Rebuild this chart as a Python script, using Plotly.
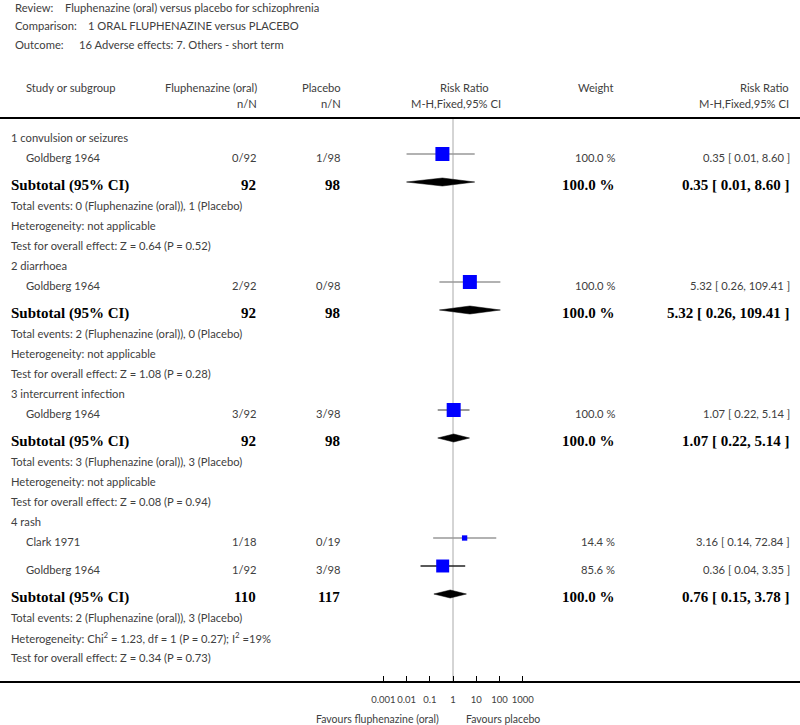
import plotly.graph_objects as go

# ---------------- data ----------------
review_title = "Fluphenazine (oral) versus placebo for schizophrenia"
comparison_title = "1 ORAL FLUPHENAZINE versus PLACEBO"
outcome_title = "16 Adverse effects: 7. Others - short term"

group_names = ["1 convulsion or seizures", "2 diarrhoea", "3 intercurrent infection", "4 rash"]

study_names = ["Goldberg 1964", "Goldberg 1964", "Goldberg 1964", "Clark 1971", "Goldberg 1964"]
study_group = [0, 1, 2, 3, 3]
flu_events = [0, 2, 3, 1, 1]
flu_n = [92, 92, 92, 18, 92]
pla_events = [1, 0, 3, 0, 3]
pla_n = [98, 98, 98, 19, 98]
study_weight = [100.0, 100.0, 100.0, 14.4, 85.6]
study_rr = [0.35, 5.32, 1.07, 3.16, 0.36]
study_lo = [0.01, 0.26, 0.22, 0.14, 0.04]
study_hi = [8.60, 109.41, 5.14, 72.84, 3.35]

sub_flu_n = [92, 92, 92, 110]
sub_pla_n = [98, 98, 98, 117]
sub_flu_events = [0, 2, 3, 2]
sub_pla_events = [1, 0, 3, 3]
sub_weight = [100.0, 100.0, 100.0, 100.0]
sub_rr = [0.35, 5.32, 1.07, 0.76]
sub_lo = [0.01, 0.26, 0.22, 0.15]
sub_hi = [8.60, 109.41, 5.14, 3.78]
heterogeneity = ["not applicable", "not applicable", "not applicable",
                 "Chi<sup>2</sup> = 1.23, df = 1 (P = 0.27); I<sup>2</sup> =19%"]
overall_z = ["0.64", "1.08", "0.08", "0.34"]
overall_p = ["0.52", "0.28", "0.94", "0.73"]

tick_values = [0.001, 0.01, 0.1, 1, 10, 100, 1000]
tick_labels = ["0.001", "0.01", "0.1", "1", "10", "100", "1000"]

# ---------------- layout helpers ----------------
W, H = 800, 725
AX_Y = 681
PX_PER_DEC = 23.23
X_ONE = 453
SANS = "Lato"
SERIF = "Liberation Serif"
GREY = "#404040"
FS = 11.2
FS_BOLD = 15
ci_colors = ["#999999", "#999999", "#777777", "#999999", "#222222"]


def fx(p):
    return p / W


annotations = []


def txt(x, y, s, anchor="left", bold=False, size=None, color=None, paper_y=False):
    annotations.append(dict(
        x=fx(x), xref="paper",
        y=(1 - y / H) if paper_y else y, yref="paper" if paper_y else "y",
        text=f"<b>{s}</b>" if bold else s, showarrow=False, xanchor=anchor, yanchor="middle",
        font=dict(family=SERIF if bold else SANS,
                  size=size if size else (FS_BOLD if bold else FS),
                  color=color if color else ("black" if bold else GREY))))


# title block
txt(13, 7, "Review:")
txt(63, 7, review_title)
txt(13, 25, "Comparison:")
txt(86, 25, comparison_title)
txt(13, 44, "Outcome:")
txt(77, 44, outcome_title)

# header
txt(24, 87, "Study or subgroup")
txt(259, 87, "Fluphenazine (oral)", "right")
txt(343, 87, "Placebo", "right")
txt(491, 87, "Risk Ratio", "right")
txt(616, 87, "Weight", "right")
txt(791, 87, "Risk Ratio", "right")
txt(259, 103, "n/N", "right")
txt(343, 103, "n/N", "right")
txt(503, 103, "M-H,Fixed,95% CI", "right")
txt(791, 103, "M-H,Fixed,95% CI", "right")

fig = go.Figure()

y = 137
for g, gname in enumerate(group_names):
    txt(9, y, gname)
    y += 20
    for i in range(len(study_names)):
        if study_group[i] != g:
            continue
        txt(24, y, study_names[i])
        txt(259, y, f"{flu_events[i]}/{flu_n[i]}", "right")
        txt(343, y, f"{pla_events[i]}/{pla_n[i]}", "right")
        txt(617, y, f"{study_weight[i]:.1f} %", "right")
        txt(792, y, f"{study_rr[i]:.2f} [ {study_lo[i]:.2f}, {study_hi[i]:.2f} ]", "right")
        my = y - 3
        fig.add_trace(go.Scatter(x=[study_lo[i], study_hi[i]], y=[my, my], mode="lines",
                                 line=dict(color=ci_colors[i], width=1.3), hoverinfo="skip"))
        fig.add_trace(go.Scatter(x=[study_rr[i]], y=[my], mode="markers",
                                 marker=dict(symbol="square", color="#0000FF",
                                             size=14 * (study_weight[i] / 100) ** 0.5,
                                             line=dict(width=0)),
                                 hoverinfo="skip"))
        y += 28
    # subtotal
    txt(9, y, "Subtotal (95% CI)", bold=True)
    txt(258, y, f"{sub_flu_n[g]}", "right", bold=True)
    txt(342, y, f"{sub_pla_n[g]}", "right", bold=True)
    txt(617, y, f"{sub_weight[g]:.1f} %", "right", bold=True)
    txt(792, y, f"{sub_rr[g]:.2f} [ {sub_lo[g]:.2f}, {sub_hi[g]:.2f} ]", "right", bold=True)
    dy = y - 3
    fig.add_trace(go.Scatter(x=[sub_lo[g], sub_rr[g], sub_hi[g], sub_rr[g], sub_lo[g]],
                             y=[dy, dy - 4, dy, dy + 4, dy], mode="lines", fill="toself",
                             fillcolor="black", line=dict(color="black", width=0.5),
                             hoverinfo="skip"))
    y += 20
    txt(9, y, f"Total events: {sub_flu_events[g]} (Fluphenazine (oral)), {sub_pla_events[g]} (Placebo)")
    y += 20
    txt(9, y, f"Heterogeneity: {heterogeneity[g]}")
    y += 20
    txt(9, y, f"Test for overall effect: Z = {overall_z[g]} (P = {overall_p[g]})")
    y += 20

# favours labels
txt(441, 719, "Favours fluphenazine (oral)", "right", size=10.5, paper_y=True)
txt(464, 719, "Favours placebo", "left", size=10.5, paper_y=True)

shapes = [
    dict(type="line", xref="paper", yref="y", x0=0, x1=1, y0=118, y1=118,
         line=dict(color="black", width=2)),
    dict(type="line", xref="x", yref="y", x0=1, x1=1, y0=118, y1=AX_Y,
         line=dict(color="#aaaaaa", width=1), layer="below"),
]

fig.update_layout(
    width=W, height=H, margin=dict(l=0, r=0, t=0, b=0),
    paper_bgcolor="white", plot_bgcolor="white", showlegend=False, hovermode=False,
    xaxis=dict(type="log", range=[-X_ONE / PX_PER_DEC, (W - X_ONE) / PX_PER_DEC], domain=[0, 1],
               tickvals=tick_values, ticktext=tick_labels, ticks="inside", ticklen=5,
               tickcolor="black", tickwidth=1, showline=True, linecolor="black", linewidth=2,
               showgrid=False, zeroline=False, ticklabelstandoff=9, tickangle=0,
               tickfont=dict(family=SANS, size=9.5, color=GREY), fixedrange=True),
    yaxis=dict(range=[AX_Y, 0], domain=[1 - AX_Y / H, 1], visible=False, fixedrange=True),
    annotations=annotations, shapes=shapes,
)

fig.write_html("out.html", config={"staticPlot": True},
               post_script="document.body.style.margin='0';document.body.style.overflow='hidden';")
